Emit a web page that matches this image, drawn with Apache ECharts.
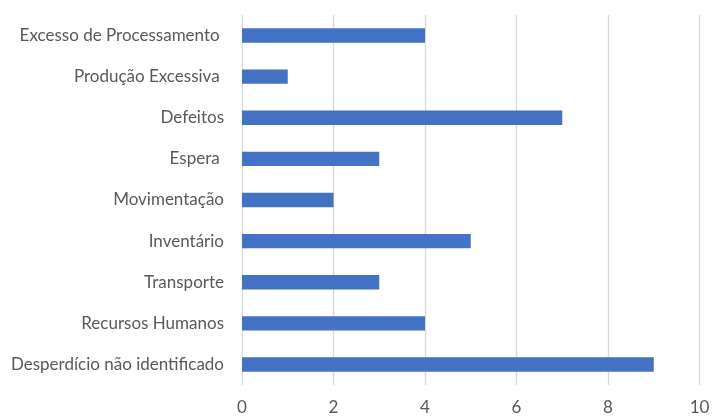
<!DOCTYPE html>
<html><head><meta charset="utf-8">
<script src="https://cdn.jsdelivr.net/npm/echarts@6/dist/echarts.min.js"></script>
<style>html,body{margin:0;padding:0;background:#fff}#c{width:713px;height:417px}</style>
</head><body><div id="c"></div>
<script>
const categories = ["Desperdício não identificado","Recursos Humanos","Transporte","Inventário","Movimentação","Espera ","Defeitos","Produção Excessiva ","Excesso de Processamento "];
const values = [9,4,3,5,2,3,7,1,4];
const xTicks = {min:0,max:10,interval:2};

const chart = echarts.init(document.getElementById('c'));
chart.setOption({
  animation:false,
  grid:{left:242,right:13.5,top:15,bottom:32,containLabel:false},
  xAxis:{type:'value',min:xTicks.min,max:xTicks.max,interval:xTicks.interval,
    axisLine:{show:false},axisTick:{show:false},
    axisLabel:{color:'#595959',fontFamily:'Lato',fontSize:17,margin:14},
    splitLine:{lineStyle:{color:'#d9d9d9',width:1.3}}},
  yAxis:{type:'category',data:categories,
    axisLine:{show:false},axisTick:{show:false},
    axisLabel:{color:'#595959',fontFamily:'Lato',fontSize:17,margin:18}},
  series:[{type:'bar',data:values,barWidth:'35%',itemStyle:{color:'#4472C4'}}]
});
</script></body></html>
